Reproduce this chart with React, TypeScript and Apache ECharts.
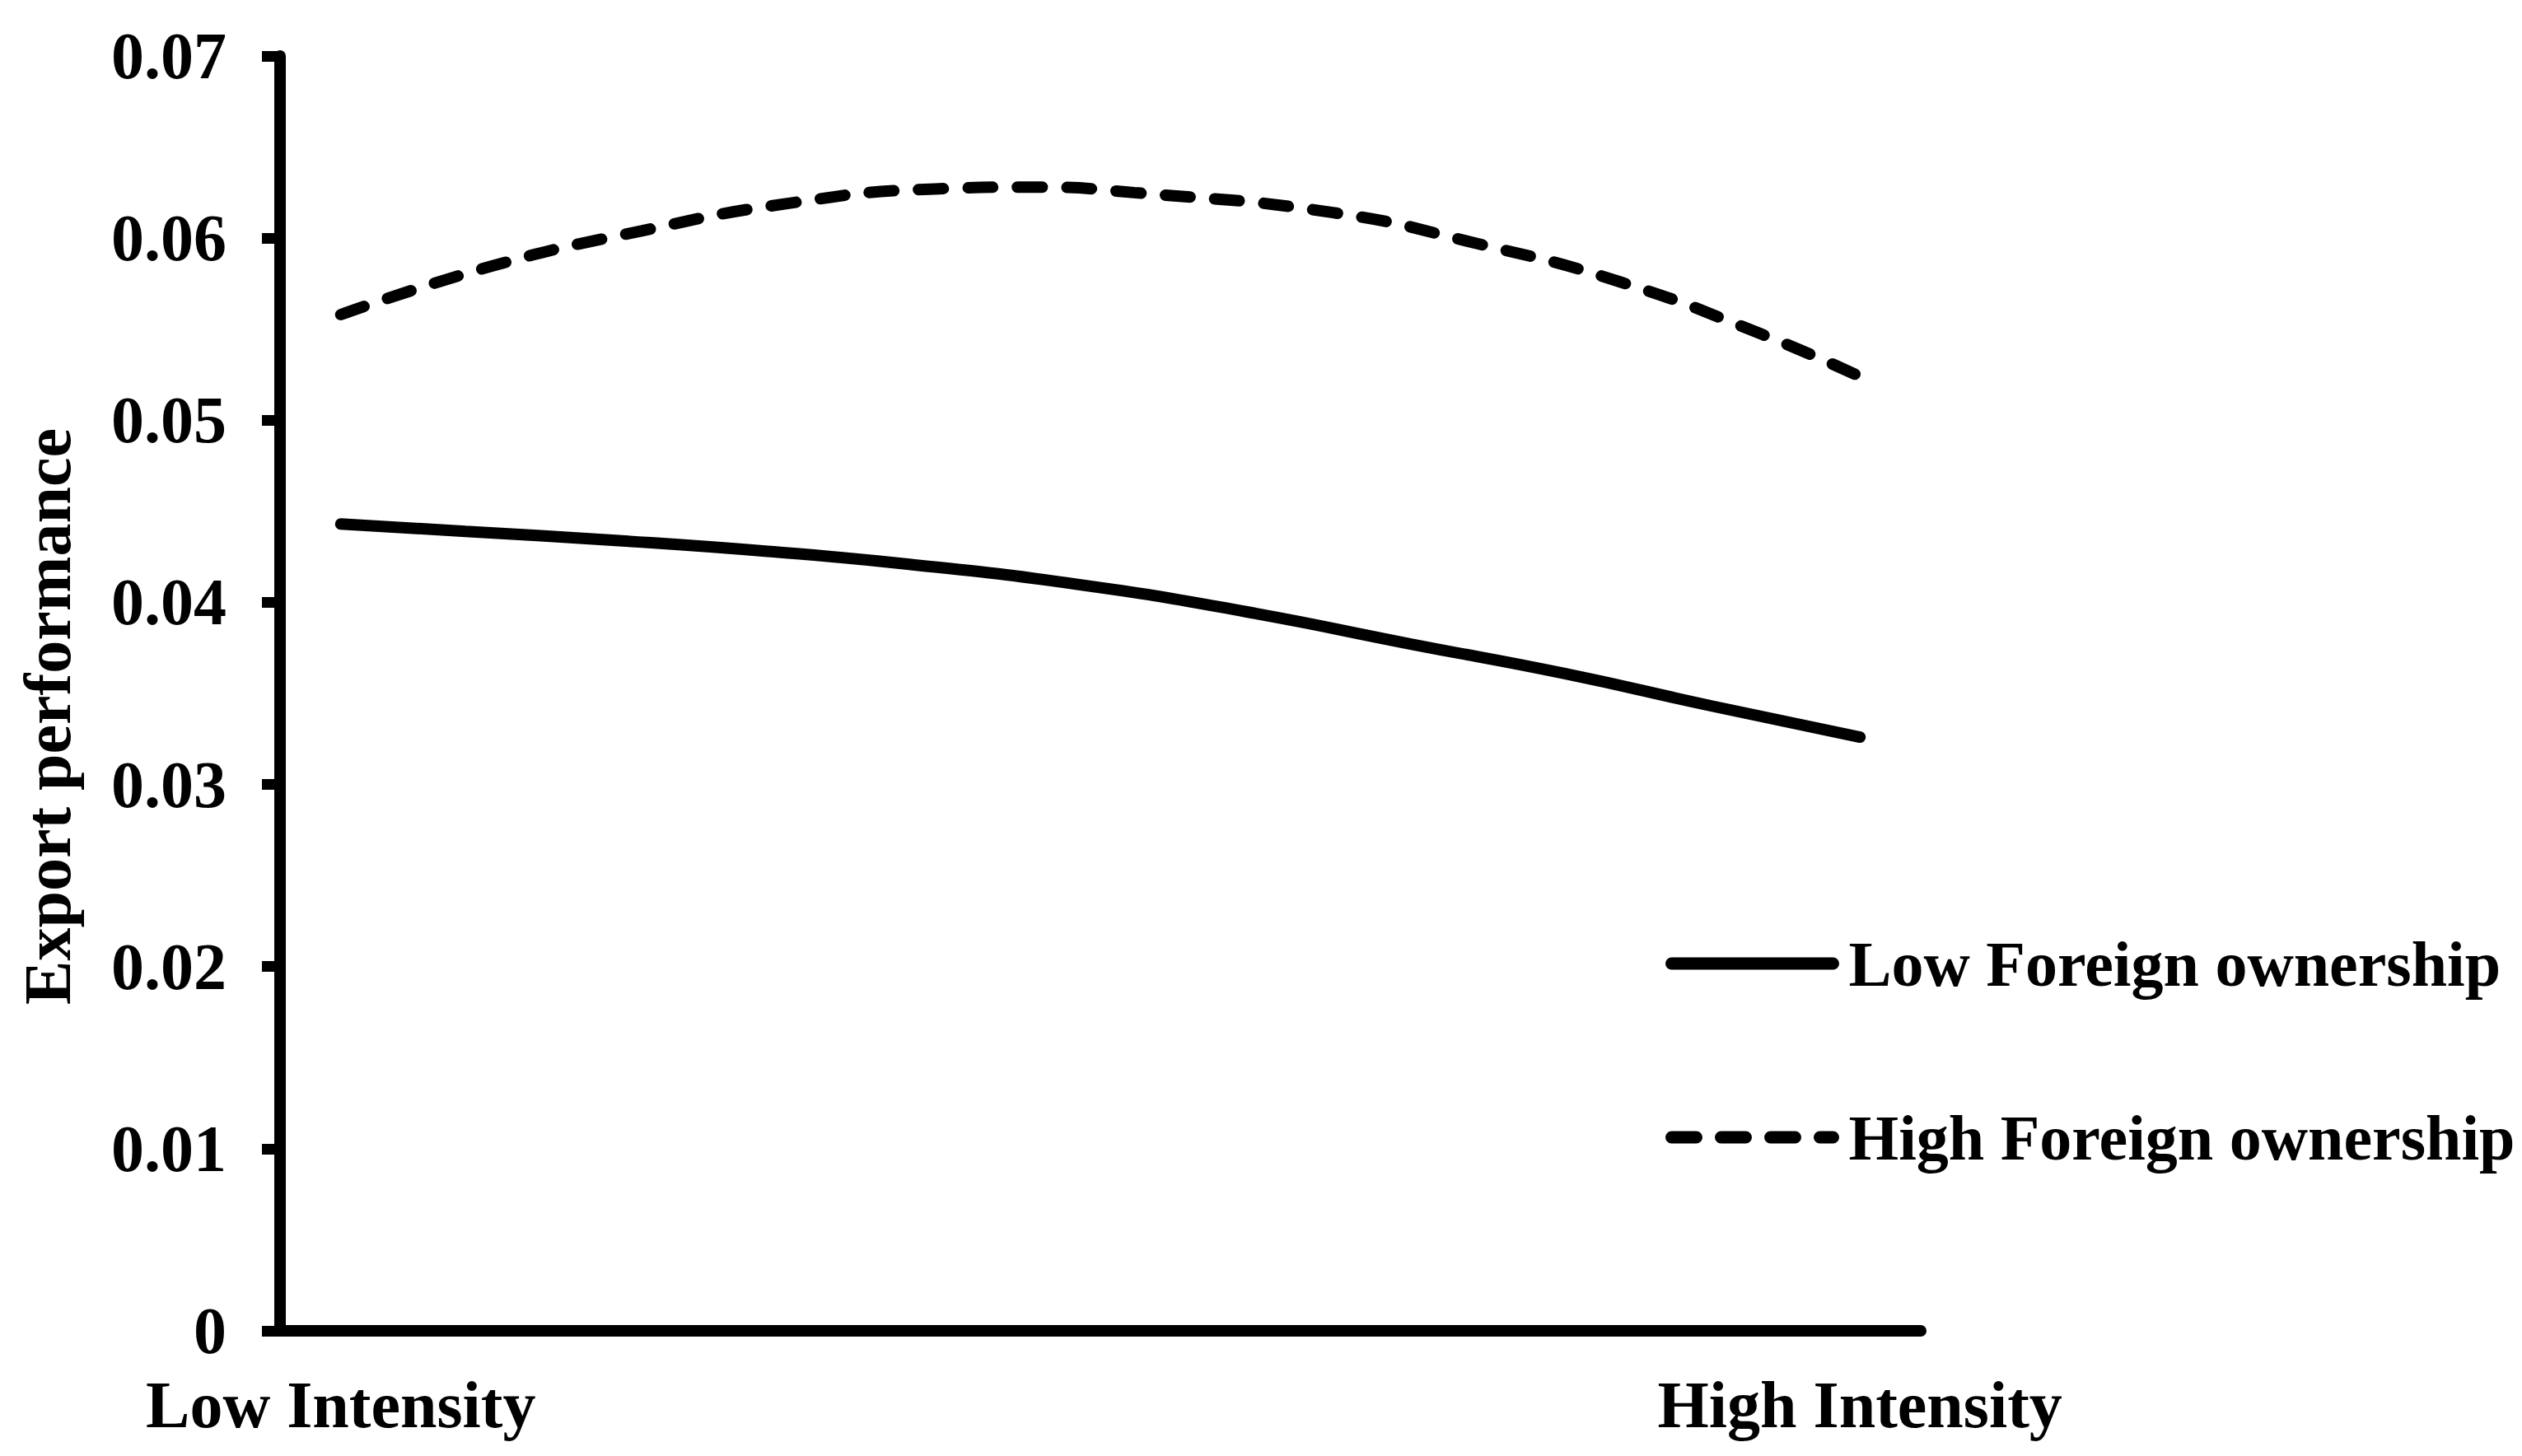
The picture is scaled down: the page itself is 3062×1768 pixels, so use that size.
import React, { useEffect, useRef } from "react";
import * as echarts from "echarts";

const seriesNames = ["Low Foreign ownership", "High Foreign ownership"];
const xCategoryLabels = ["Low Intensity", "High Intensity"];
const xCategoryPositions = [0, 1];
const yTickLabels = ["0", "0.01", "0.02", "0.03", "0.04", "0.05", "0.06", "0.07"];

const lowX = [0, 0.082, 0.181, 0.281, 0.373, 0.484, 0.595, 0.705, 0.805, 0.903, 1.0];
const lowY = [0.0443, 0.0439, 0.0434, 0.0428, 0.0421, 0.041, 0.0395, 0.0377, 0.0361, 0.0343, 0.0326];

const highX = [0, 0.101, 0.198, 0.294, 0.391, 0.457, 0.522, 0.653, 0.748, 0.842, 0.936, 1.0];
const highY = [0.0558, 0.0585, 0.0604, 0.0619, 0.0627, 0.0628, 0.0625, 0.0614, 0.0597, 0.0576, 0.0547, 0.0524];

const FONT = "'Liberation Serif', 'Times New Roman', serif";

export default function App() {
  const ref = useRef<HTMLDivElement>(null);
  useEffect(() => {
    if (!ref.current) return;
    const chart = echarts.init(ref.current, null, { renderer: "svg" });
    const pairs = (xs: number[], ys: number[]) => xs.map((x, i) => [x, ys[i]]);
    chart.setOption({
      animation: false,
      backgroundColor: "#ffffff",
      textStyle: { fontFamily: FONT },
      grid: {
        left: 340,
        right: 730,
        top: 68,
        bottom: 152,
        containLabel: false,
        outerBoundsMode: "none",
      },
      legend: {
        orient: "vertical",
        left: 2022,
        top: 1131,
        padding: 0,
        itemWidth: 196,
        itemHeight: 15,
        itemGap: 133,
        data: seriesNames,
        selectedMode: false,
        itemStyle: { opacity: 0 },
        lineStyle: { width: 15, cap: "round", color: "#000" },
        textStyle: {
          fontFamily: FONT,
          fontWeight: "bold",
          fontSize: 78,
          color: "#000",
          padding: [0, 0, 0, 14],
        },
      },
      xAxis: {
        type: "value",
        min: -0.04,
        max: 1.04,
        splitLine: { show: false },
        axisLine: { show: true, onZero: false, lineStyle: { color: "#000", width: 14 } },
        axisTick: { show: false },
        axisLabel: {
          customValues: xCategoryPositions,
          margin: 50,
          fontFamily: FONT,
          fontWeight: "bold",
          fontSize: 80,
          color: "#000",
          formatter: (v: number) => {
            const i = xCategoryPositions.findIndex((p) => Math.abs(p - v) < 1e-6);
            return i >= 0 ? xCategoryLabels[i] : "";
          },
        },
      },
      yAxis: {
        type: "value",
        min: 0,
        max: 0.07,
        interval: 0.01,
        name: "Export performance",
        nameLocation: "middle",
        nameGap: 282,
        nameRotate: 90,
        nameTextStyle: {
          fontFamily: FONT,
          fontWeight: "bold",
          fontSize: 80,
          color: "#000",
          align: "center",
          verticalAlign: "middle",
          padding: [0, 56, 0, 0],
        },
        splitLine: { show: false },
        axisLine: { show: true, onZero: false, lineStyle: { color: "#000", width: 14 } },
        axisTick: { show: true, length: 22, lineStyle: { color: "#000", width: 13 } },
        axisLabel: {
          margin: 65,
          fontFamily: FONT,
          fontWeight: "bold",
          fontSize: 80,
          color: "#000",
          formatter: (v: number) => {
            const i = Math.round(v / 0.01);
            return yTickLabels[i] ?? "";
          },
        },
      },
      series: [
        {
          name: seriesNames[0],
          type: "line",
          data: pairs(lowX, lowY),
          smooth: true,
          symbol: "none",
          lineStyle: { color: "#000", width: 14, type: "solid", cap: "round" },
          itemStyle: { color: "#000" },
        },
        {
          name: seriesNames[1],
          type: "line",
          data: pairs(highX, highY),
          smooth: true,
          symbol: "none",
          lineStyle: { color: "#000", width: 14, type: [30, 30], cap: "round" },
          itemStyle: { color: "#000" },
        },
      ],
    });
    return () => chart.dispose();
  }, []);
  return (
    <div
      ref={ref}
      style={{ position: "fixed", left: 0, top: 0, width: "3062px", height: "1768px", background: "#fff" }}
    />
  );
}
